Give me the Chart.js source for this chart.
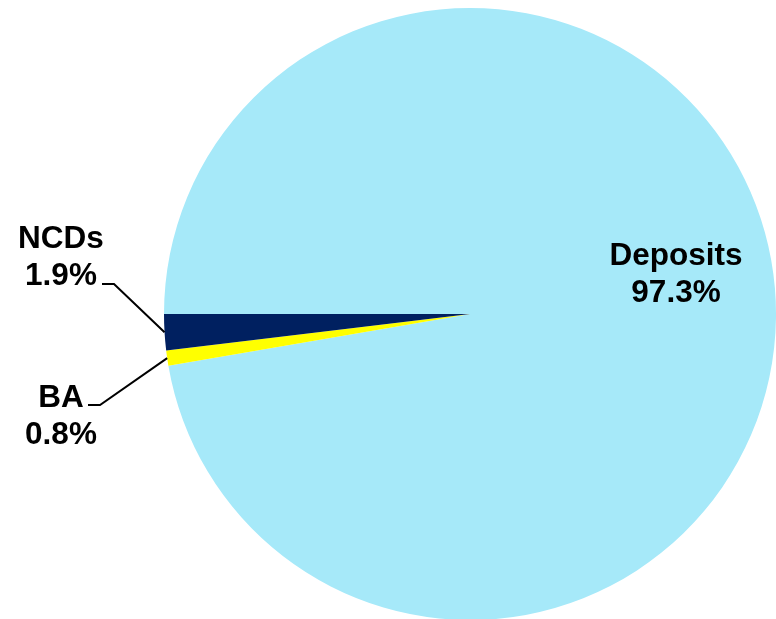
<!DOCTYPE html>
<html>
<head>
<meta charset="utf-8">
<script src="https://cdn.jsdelivr.net/npm/chart.js@4/dist/chart.umd.min.js"></script>
<style>
  html, body { margin: 0; padding: 0; background: #fff; overflow: hidden; }
  #wrap { width: 776px; height: 629px; }
</style>
</head>
<body>
<div id="wrap"><canvas id="pieChart" width="776" height="629"></canvas></div>
<script>
// Funding mix pie
const categories = ['Deposits', 'BA', 'NCDs'];
const shares = [97.3, 0.8, 1.9];
const sliceColors = ['#A6E9F9', '#FFFF00', '#002060'];

// label placement: text centre x, first line baseline, optional leader elbow and end x
const labelSpots = [
  { x: 676, y: 265 },
  { x: 61, y: 407, elbow: [100, 405], end: 88 },
  { x: 61, y: 248, elbow: [114, 284], end: 102 }
];

const pieLabels = {
  id: 'pieLabels',
  afterDraw(chart) {
    const c = chart.ctx;
    const meta = chart.getDatasetMeta(0);
    c.save();
    c.font = 'bold 31.5px "Liberation Sans", Arial, sans-serif';
    c.fillStyle = '#000';
    c.textAlign = 'center';
    c.textBaseline = 'alphabetic';
    meta.data.forEach((arc, i) => {
      const spot = labelSpots[i];
      c.fillText(categories[i], spot.x, spot.y);
      c.fillText(shares[i].toFixed(1) + '%', spot.x, spot.y + 37);
      if (spot.elbow) {
        const mid = (arc.startAngle + arc.endAngle) / 2;
        const ax = arc.x + Math.cos(mid) * arc.outerRadius;
        const ay = arc.y + Math.sin(mid) * arc.outerRadius;
        c.beginPath();
        c.moveTo(ax, ay);
        c.lineTo(spot.elbow[0], spot.elbow[1]);
        c.lineTo(spot.end, spot.elbow[1]);
        c.strokeStyle = '#000';
        c.lineWidth = 2;
        c.stroke();
      }
    });
    c.restore();
  }
};

const ctx = document.getElementById('pieChart').getContext('2d');

const pieChart = new Chart(ctx, {
  type: 'pie',
  data: {
    labels: categories,
    datasets: [{
      data: shares,
      backgroundColor: sliceColors,
      borderWidth: 0
    }]
  },
  options: {
    responsive: false,
    animation: false,
    rotation: 270,
    layout: { padding: { left: 164, right: 0, top: 8, bottom: 9 } },
    plugins: {
      legend: { display: false },
      tooltip: { enabled: false }
    }
  },
  plugins: [pieLabels]
});
</script>
</body>
</html>
